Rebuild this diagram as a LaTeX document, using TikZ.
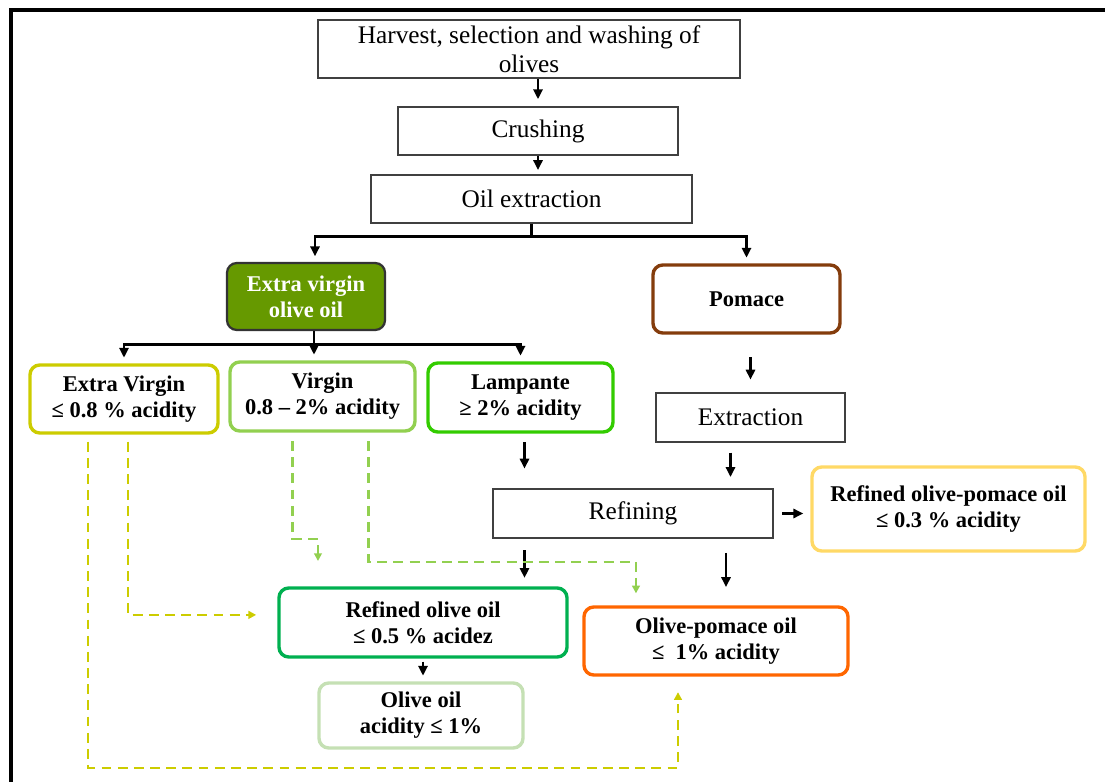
\documentclass[tikz,border=0pt]{standalone}
\usepackage{fontspec}
\setmainfont{Liberation Serif}
\usetikzlibrary{arrows.meta}

\definecolor{evoogreen}{RGB}{102,153,0}
\definecolor{pomacebrown}{RGB}{132,60,12}
\definecolor{evyellow}{RGB}{204,204,0}
\definecolor{virgreen}{RGB}{146,208,80}
\definecolor{lampgreen}{RGB}{51,204,0}
\definecolor{roogreen}{RGB}{0,176,80}
\definecolor{oopale}{RGB}{197,224,180}
\definecolor{opoorange}{RGB}{255,102,0}
\definecolor{rpoyellow}{RGB}{255,217,102}

\begin{document}
\begin{tikzpicture}[x=0.025cm,y=-0.025cm,
 plainbox/.style={draw=black!75,line width=1.1pt,inner sep=0pt,align=center,
   font=\fontsize{18}{20.6}\selectfont},
 roundbox/.style={draw,line width=2.4pt,rounded corners=7pt,inner sep=0pt,align=center,
   font=\fontsize{16}{18.5}\selectfont\bfseries},
 arr/.style={-{Triangle[length=7pt,width=6.5pt]},line width=2pt},
 ydash/.style={draw=evyellow,line width=1.6pt,dash pattern=on 7pt off 4.5pt,
   -{Triangle[length=5.5pt,width=5.5pt]}},
 gdash/.style={draw=virgreen,line width=1.6pt,dash pattern=on 7pt off 4.5pt,
   -{Triangle[length=5.5pt,width=5.5pt]}}]
 \useasboundingbox (0,0) rectangle (1105,782);
 \draw[line width=2.5pt] (11,782) -- (11,10) -- (1105,10);

 % main line
 \node[plainbox,minimum width=10.55cm,minimum height=1.45cm] (harvest) at (529,49)
  {Harvest, selection and washing of\\olives};
 \node[plainbox,minimum width=7cm,minimum height=1.2cm] (crush) at (538,131) {Crushing};
 \node[plainbox,minimum width=8.025cm,minimum height=1.2cm] (oilex) at (531.5,199) {Oil extraction};
 \draw[arr,shorten >=5pt] (crush.north |- harvest.south) -- (crush.north);
 \draw[arr,shorten >=3pt] (crush.south) -- (crush.south |- oilex.north);

 % the two products
 \node[roundbox,draw=black!80,line width=1.6pt,fill=evoogreen,text=white,minimum width=3.95cm,minimum height=1.675cm]
  (evoo) at (306,296.5) {Extra virgin\\olive oil};
 \node[roundbox,draw=pomacebrown,minimum width=4.675cm,minimum height=1.7cm]
  (pomace) at (746.5,299) {Pomace};
 \draw[arr,shorten >=4pt] (oilex.south) -- ++(0,13) -| ([xshift=0.225cm]evoo.north);
 \draw[arr,shorten >=4pt] (oilex.south) -- ++(0,13) -| (pomace.north);

 % grades
 \node[roundbox,draw=evyellow,minimum width=4.7cm,minimum height=1.7cm]
  (ev) at (124,399) {Extra Virgin\\≤ 0.8 \% acidity};
 \node[roundbox,draw=virgreen,minimum width=4.625cm,minimum height=1.725cm]
  (vir) at (322.5,396.5) {Virgin\\0.8 – 2\% acidity};
 \node[roundbox,draw=lampgreen,minimum width=4.625cm,minimum height=1.725cm]
  (lamp) at (520.5,397.5) {Lampante\\≥ 2\% acidity};
 \draw[arr,shorten >=4pt] ([xshift=0.2cm]evoo.south) -- ++(0,13) -| (ev.north);
 \draw[arr,shorten >=4pt] ([xshift=0.2cm]evoo.south) -- ([xshift=0.2cm]evoo.south |- vir.north);
 \draw[arr,shorten >=4pt] ([xshift=0.2cm]evoo.south) -- ++(0,13) -| (lamp.north);

 % refining
 \node[plainbox,minimum width=4.725cm,minimum height=1.225cm] (extr) at (750.5,417.5) {Extraction};
 \node[plainbox,minimum width=7cm,minimum height=1.225cm] (refin) at (633,513.5) {Refining};
 \node[roundbox,draw=rpoyellow,minimum width=6.825cm,minimum height=2.1cm]
  (rpo) at (948.5,509) {Refined olive-pomace oil\\≤ 0.3 \% acidity};
 \draw[arr,shorten <=16pt,shorten >=9pt] (pomace.south -| extr.north) -- (extr.north);
 \draw[arr,shorten <=7pt,shorten >=8pt] ([xshift=-0.5cm]extr.south) -- ([xshift=-0.5cm]extr.south |- refin.north);
 \draw[arr,shorten <=6pt,shorten >=14pt] ([xshift=0.1cm]lamp.south) -- ([xshift=0.1cm]lamp.south |- refin.north);
 \draw[arr,shorten <=6pt,shorten >=5pt] (refin.east) -- (refin.east -| rpo.west);

 % final oils
 \node[roundbox,draw=roogreen,minimum width=7.2cm,minimum height=1.725cm]
  (roo) at (423,622.5) {Refined olive oil\\≤ 0.5 \% acidez};
 \node[roundbox,draw=opoorange,minimum width=6.6cm,minimum height=1.7cm]
  (opo) at (716,641) {Olive-pomace oil\\≤~~1\% acidity};
 \node[roundbox,draw=oopale,minimum width=5.1cm,minimum height=1.625cm]
  (oo) at (421,715.5) {Olive oil\\acidity ≤ 1\%};
 \draw[arr,shorten <=8pt,shorten >=6pt] ([xshift=0.1cm]lamp.south |- refin.south) -- ([xshift=0.1cm]lamp.south |- roo.north);
 \draw[arr,shorten <=10pt,shorten >=13pt] ([xshift=0.25cm]opo.north |- refin.south) -- ([xshift=0.25cm]opo.north);
 \draw[arr,shorten <=2pt,shorten >=4pt] (roo.south) -- (roo.south |- oo.north);

 % dashed links
 \draw[ydash,shorten <=5pt,shorten >=11pt] ([xshift=-0.9cm]ev.south) -- ++(0,333) -| ([xshift=-0.95cm]opo.south);
 \draw[ydash,shorten <=5pt,shorten >=15pt] ([xshift=0.1cm]ev.south) |- ([yshift=0.19cm]roo.west);
 \draw[gdash,shorten <=6pt,shorten >=18pt] ([xshift=-0.75cm]vir.south) -- ++(0,106) -| ([xshift=-2.625cm]roo.north);
 \draw[gdash,shorten <=6pt,shorten >=8.5pt] ([xshift=1.15cm]vir.south) -- ++(0,129) -| ([xshift=-2cm]opo.north);
\end{tikzpicture}
\end{document}
